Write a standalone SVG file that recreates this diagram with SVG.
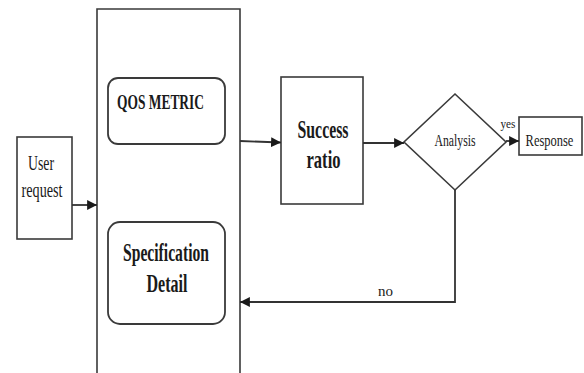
<svg xmlns="http://www.w3.org/2000/svg" width="584" height="373" viewBox="0 0 584 373">
<style>
.box{fill:#fff;stroke:#3a3a3a;stroke-width:1.6}
.rbox{fill:#fff;stroke:#3a3a3a;stroke-width:1.8}
.ln{fill:none;stroke:#333;stroke-width:1.8}
text{font-family:"Liberation Serif","Times New Roman",serif;fill:#1a1a1a;text-anchor:middle}
.b{font-weight:bold}
</style>
<defs>
<marker id="ah" viewBox="0 0 10 10" refX="10" refY="5" markerWidth="5.5" markerHeight="5.5" orient="auto" markerUnits="strokeWidth">
<path d="M0,0 L10,5 L0,10 Z" fill="#1a1a1a"/>
</marker>
</defs>
<rect width="584" height="373" fill="#fff"/>
<g id="user-request">
<rect class="box" x="17" y="137" width="55" height="102"/>
<text x="41" y="170" font-size="20" textLength="26" lengthAdjust="spacingAndGlyphs">User</text>
<text x="42" y="197" font-size="20" textLength="41" lengthAdjust="spacingAndGlyphs">request</text>
</g>
<g id="container">
<path class="box" d="M97,374 V9 H240 V374"/>
</g>
<g id="qos-metric">
<rect class="rbox" x="108" y="78" width="117" height="66" rx="10"/>
<text class="b" x="160.5" y="109" font-size="21" textLength="87" lengthAdjust="spacingAndGlyphs">QOS METRIC</text>
</g>
<g id="specification-detail">
<rect class="rbox" x="108" y="222" width="117" height="102" rx="12"/>
<text class="b" x="166" y="261" font-size="26" textLength="86" lengthAdjust="spacingAndGlyphs">Specification</text>
<text class="b" x="167" y="292" font-size="26" textLength="41" lengthAdjust="spacingAndGlyphs">Detail</text>
</g>
<g id="success-ratio">
<rect class="box" x="281" y="77" width="82" height="127"/>
<text class="b" x="323" y="138" font-size="26" textLength="51" lengthAdjust="spacingAndGlyphs">Success</text>
<text class="b" x="323.5" y="168" font-size="26" textLength="34" lengthAdjust="spacingAndGlyphs">ratio</text>
</g>
<g id="analysis">
<path class="box" d="M455,94 L506,142 L455,190 L404,142 Z"/>
<text x="455" y="146" font-size="17" textLength="41" lengthAdjust="spacingAndGlyphs">Analysis</text>
</g>
<g id="response">
<rect class="box" x="519" y="117" width="63" height="38"/>
<text transform="translate(549.5,146) scale(0.78,1)" x="0" y="0" font-size="16">Response</text>
</g>
<g id="connectors">
<line class="ln" x1="72" y1="205" x2="97" y2="205" marker-end="url(#ah)"/>
<line class="ln" x1="240" y1="141" x2="281" y2="142.5" marker-end="url(#ah)"/>
<line class="ln" x1="363" y1="143" x2="404" y2="143" marker-end="url(#ah)"/>
<line class="ln" x1="506" y1="141" x2="519" y2="141" marker-end="url(#ah)"/>
<path class="ln" d="M455,190 V302 H240" marker-end="url(#ah)"/>
<text x="508" y="128" font-size="13" textLength="15" lengthAdjust="spacingAndGlyphs">yes</text>
<text x="385.5" y="296" font-size="15" textLength="15" lengthAdjust="spacingAndGlyphs">no</text>
</g>
</svg>
